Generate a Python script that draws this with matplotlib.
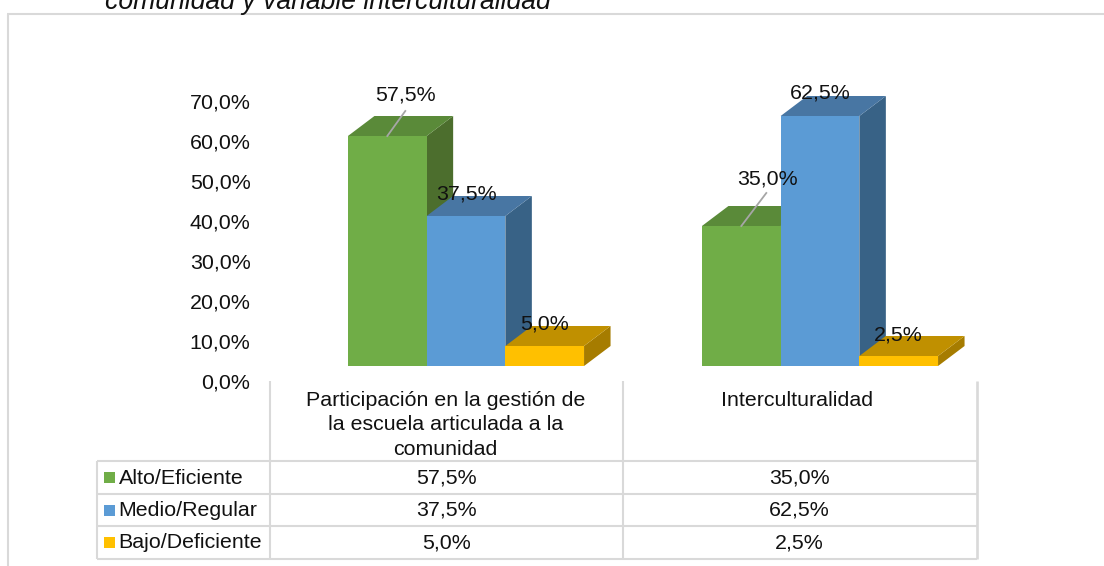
import matplotlib
matplotlib.use("Agg")
import matplotlib.pyplot as plt
from matplotlib.patches import Polygon, Rectangle

plt.rcParams['font.family'] = ['Liberation Sans', 'DejaVu Sans']

categories = ['Participación en la gestión de\nla escuela articulada a la\ncomunidad', 'Interculturalidad']
series_names = ['Alto/Eficiente', 'Medio/Regular', 'Bajo/Deficiente']
alto = [57.5, 35.0]
medio = [37.5, 62.5]
bajo = [5.0, 2.5]
series_values = [alto, medio, bajo]
yticks = [0, 10, 20, 30, 40, 50, 60, 70]
title = 'comunidad y variable interculturalidad'

front_colors = ['#70AD47', '#5B9BD5', '#FFC000']
top_colors = ['#5A8A39', '#4876A3', '#C09000']
side_colors = ['#4C6E2D', '#386286', '#A67C00']

W, H = 1104, 566
fig = plt.figure(figsize=(W / 100, H / 100), dpi=100)
bg = fig.add_axes([0, 0, 1, 1])
bg.set_xlim(0, W)
bg.set_ylim(H, 0)
bg.axis('off')

GRID = '#D9D9D9'
TXT = '#111111'
FS = 15.4


def vline(x, y0, y1, lw=1.5):
    bg.plot([x, x], [y0, y1], color=GRID, lw=lw, solid_capstyle='butt', zorder=1)


def hline(y, x0, x1, lw=1.5):
    bg.plot([x0, x1], [y, y], color=GRID, lw=lw, solid_capstyle='butt', zorder=1)


# chart frame: only the top and left edges fall inside the picture
hline(14, 7, 1104)
vline(8, 14, 566)

# data table grid
table_left, col0, col1, col2 = 97, 270, 623, 976.5
rows_y = [461, 494, 526, 559]
vline(col0, 381, 559)
vline(col1, 381, 559)
vline(col2, 381, 559, lw=1.9)
vline(table_left, 461, 559)
for y in rows_y:
    hline(y, table_left, col2)

# title, cut by the top of the image as in the reference
bg.text(105, 9, title, fontsize=19.2, style='italic', color=TXT, ha='left', va='baseline')

# plot area: one x unit is one category group, y is in percent
unit_px = 354
px_per_pct = 4.0
base_y = 366
top_pct = 75
ax_left = 289
ax_top = base_y - top_pct * px_per_pct
ax = fig.add_axes([ax_left / W, 1 - base_y / H, 2 * unit_px / W, (base_y - ax_top) / H])
ax.set_xlim(0, 2)
ax.set_ylim(0, top_pct)
ax.axis('off')
ax.patch.set_alpha(0)

bar_w = 78.7 / unit_px
dx = 26.5 / unit_px
dy = 20 / px_per_pct

for s, vals in enumerate(series_values):
    for c, v in enumerate(vals):
        x0 = c + 0.5 + (s - 1.5) * bar_w
        x1 = x0 + bar_w
        z = 3 + s
        ax.add_patch(Polygon([(x1, 0), (x1 + dx, dy), (x1 + dx, v + dy), (x1, v)],
                             facecolor=side_colors[s], edgecolor='none', zorder=z))
        ax.add_patch(Polygon([(x0, v), (x0 + dx, v + dy), (x1 + dx, v + dy), (x1, v)],
                             facecolor=top_colors[s], edgecolor='none', zorder=z))
        ax.add_patch(Rectangle((x0, 0), bar_w, v, facecolor=front_colors[s],
                               edgecolor='none', zorder=z + 0.5))

# value labels: offset from the bar's front-top centre, in pixels (series, category)
label_dx = [[18, 26], [0, 0], [0, 0]]
label_dy = [[43, 49], [24, 25], [24, 23]]
leader_end = [(18, 25), (25, 33)]
for s, vals in enumerate(series_values):
    for c, v in enumerate(vals):
        xc = c + 0.5 + (s - 1) * bar_w
        ax.text(xc + label_dx[s][c] / unit_px, v + label_dy[s][c] / px_per_pct,
                f'{v:.1f}%'.replace('.', ','), fontsize=FS, color=TXT,
                ha='center', va='center_baseline', zorder=20)
        if s == 0:
            ex, ey = leader_end[c]
            ax.plot([xc, xc + ex / unit_px], [v, v + ey / px_per_pct],
                    color='#A6A6A6', lw=1.3, zorder=19)

# y axis tick labels (sit below the floor, as in a 3D chart)
for t in yticks:
    y_px = base_y + 15 - t * px_per_pct
    bg.text(250.5, y_px, f'{t:.1f}%'.replace('.', ','), fontsize=FS, color=TXT,
            ha='right', va='center_baseline', zorder=5)

# category labels
for i, cat in enumerate(categories):
    xc = (col0 + col1) / 2 - 1 if i == 0 else (col1 + col2) / 2 - 3
    bg.text(xc, 391, cat, fontsize=FS, color=TXT, ha='center', va='top', linespacing=1.36, zorder=5)

# table rows
for r, name in enumerate(series_names):
    yc = (rows_y[r] + rows_y[r + 1]) / 2
    bg.add_patch(Rectangle((104, yc - 5.5), 11, 11, facecolor=front_colors[r], edgecolor='none', zorder=5))
    bg.text(118.5, yc - 1.5, name, fontsize=FS, color=TXT, ha='left', va='center_baseline', zorder=5)
    for c in range(2):
        xc = (col0 + col1) / 2 if c == 0 else (col1 + col2) / 2
        bg.text(xc, yc - 1.5, f'{series_values[r][c]:.1f}%'.replace('.', ','), fontsize=FS, color=TXT,
                ha='center', va='center_baseline', zorder=5)

fig.savefig('out.png', dpi=100)
